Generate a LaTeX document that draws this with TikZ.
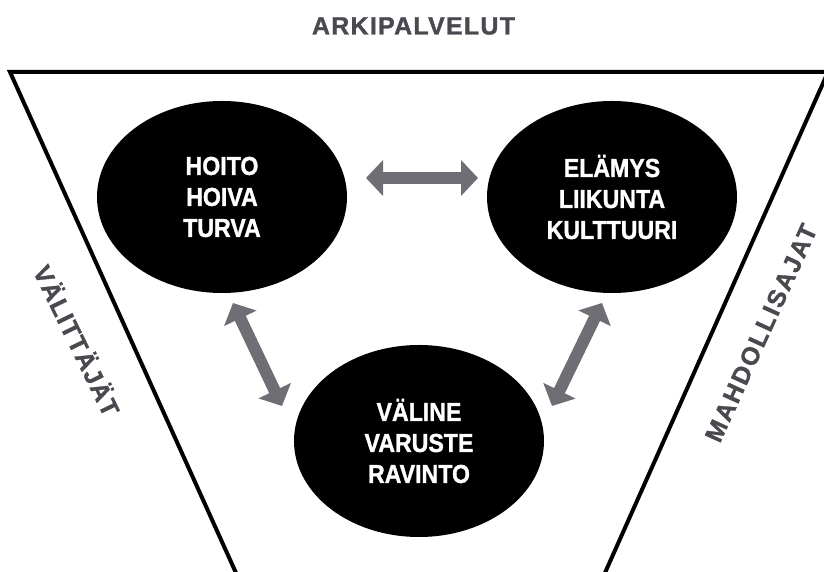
\documentclass[tikz,border=0pt]{standalone}
\usepackage{fontspec}
\setmainfont{Liberation Sans}
\newfontfamily\ellfont{Liberation Sans Bold}[FakeStretch=0.89, FakeBold=1.2]
\newfontfamily\labfont{Liberation Sans Bold}[LetterSpace=5, FakeBold=1.2]
\newfontfamily\labwidefont{Liberation Sans Bold}[LetterSpace=8, FakeBold=1.2]
\usetikzlibrary{shapes.geometric, arrows.meta}
\definecolor{labgray}{HTML}{4A494F}
\definecolor{arrgray}{HTML}{6F6E74}
\tikzset{
  blob/.style={ellipse, fill=black, minimum width=250pt, minimum height=192pt,
    inner sep=0pt, text=white, align=center,
    font=\ellfont\fontsize{26}{31}\selectfont},
  lab/.style={text=labgray, inner sep=0pt, font=\labfont\fontsize{25}{30}\selectfont},
  labwide/.style={lab, font=\labwidefont\fontsize{25}{30}\selectfont},
  dbl/.style={draw=arrgray, line width=12pt,
    {Triangle[length=17pt,width=35pt]}-{Triangle[length=17pt,width=35pt]}},
  frame/.style={draw=black, line width=4pt, line join=miter}
}
\begin{document}
\begin{tikzpicture}[x=1pt,y=1pt]
\useasboundingbox (0,0) rectangle (824,572);
% frame
\coordinate (fbl) at (241,-12);
\coordinate (ftl) at (10,500);
\coordinate (ftr) at (828,500);
\coordinate (fbr) at (600,-12);
\draw[frame] (fbl) -- (ftl) -- (ftr) -- (fbr);
% labels
\node[lab] (title) at (413.5,546) {ARKIPALVELUT};
\node[lab, rotate=-64] (lv) at (78,232) {VÄLITTÄJÄT};
\node[labwide, rotate=65.5] (rm) at (761,239) {MAHDOLLISAJAT};
% ellipses
\node[blob] (L) at (222,375) {HOITO\\HOIVA\\TURVA};
\node[blob] (R) at (612,375) {ELÄMYS\\LIIKUNTA\\KULTTUURI};
\node[blob] (B) at (419,131) {VÄLINE\\VARUSTE\\RAVINTO};
% arrows
\coordinate (h1) at (366,394);
\coordinate (h2) at (478,394);
\coordinate (l1) at (233,269);
\coordinate (l2) at (282,166);
\coordinate (r1) at (602,269);
\coordinate (r2) at (552,166);
\draw[dbl] (h1) -- (h2);
\draw[dbl] (l1) -- (l2);
\draw[dbl] (r1) -- (r2);
\end{tikzpicture}
\end{document}
